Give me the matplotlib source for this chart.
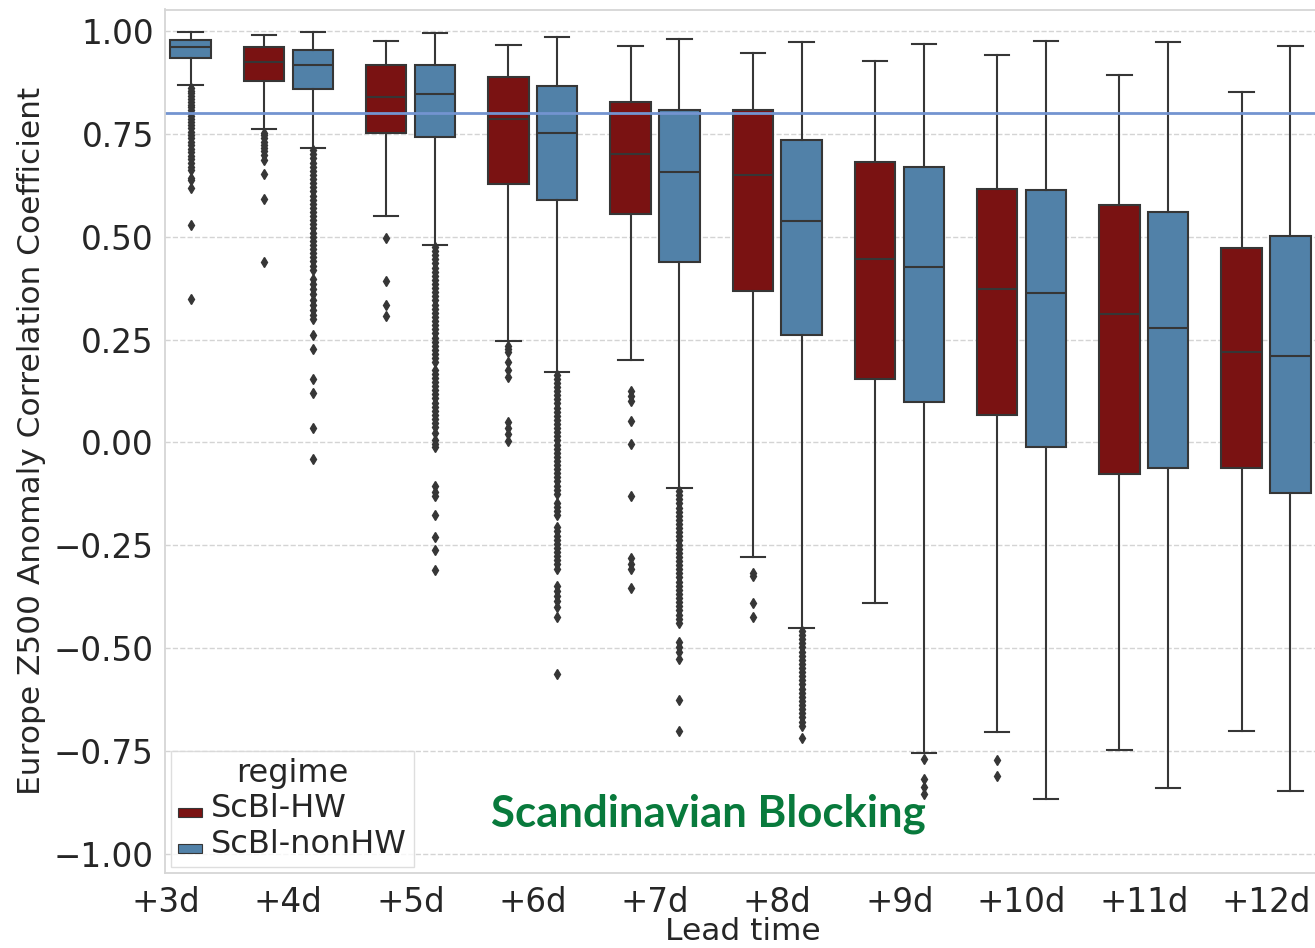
import matplotlib.pyplot as plt
from matplotlib.patches import Patch, Rectangle
from matplotlib.legend_handler import HandlerPatch

# lead times on the x axis
leads = ['+3d', '+4d', '+5d', '+6d', '+7d', '+8d', '+9d', '+10d', '+11d', '+12d']

# ScBl-HW boxes (no +3d box in this panel)
hw_leads = ['+4d', '+5d', '+6d', '+7d', '+8d', '+9d', '+10d', '+11d', '+12d']
hw_whishi = [0.990, 0.976, 0.965, 0.963, 0.946, 0.926, 0.941, 0.894, 0.852]
hw_q3 = [0.961, 0.917, 0.888, 0.828, 0.808, 0.681, 0.617, 0.576, 0.473]
hw_med = [0.924, 0.839, 0.785, 0.701, 0.649, 0.446, 0.373, 0.313, 0.219]
hw_q1 = [0.878, 0.753, 0.629, 0.554, 0.367, 0.155, 0.067, -0.077, -0.063]
hw_whislo = [0.762, 0.551, 0.246, 0.201, -0.278, -0.391, -0.704, -0.748, -0.700]
hw_fliers = [
    [0.752, 0.746, 0.740, 0.731, 0.722, 0.715, 0.707, 0.698, 0.687, 0.653, 0.592, 0.438],
    [0.497, 0.392, 0.333, 0.307],
    [0.234, 0.228, 0.220, 0.195, 0.175, 0.158, 0.049, 0.036, 0.020, 0.003],
    [0.125, 0.112, 0.100, 0.051, -0.003, -0.130, -0.281, -0.296, -0.308, -0.354],
    [-0.316, -0.325, -0.389, -0.423],
    [],
    [-0.772, -0.810],
    [],
    [],
]

# ScBl-nonHW boxes
nhw_leads = leads
nhw_whishi = [0.998, 0.998, 0.994, 0.986, 0.981, 0.973, 0.969, 0.976, 0.973, 0.963]
nhw_q3 = [0.978, 0.954, 0.917, 0.867, 0.808, 0.735, 0.669, 0.614, 0.559, 0.502]
nhw_med = [0.960, 0.917, 0.846, 0.751, 0.658, 0.539, 0.426, 0.362, 0.278, 0.209]
nhw_q1 = [0.934, 0.859, 0.743, 0.588, 0.438, 0.261, 0.098, -0.010, -0.063, -0.122]
nhw_whislo = [0.868, 0.716, 0.481, 0.172, -0.110, -0.451, -0.755, -0.865, -0.840, -0.846]
nhw_fliers = [
    [0.862, 0.855, 0.848, 0.842, 0.835, 0.828, 0.821, 0.815, 0.808, 0.800, 0.793, 0.786,
     0.779, 0.771, 0.763, 0.755, 0.747, 0.739, 0.731, 0.722, 0.714, 0.705, 0.697, 0.688,
     0.679, 0.670, 0.663, 0.643, 0.638, 0.619, 0.528, 0.349],
    [0.710, 0.700, 0.690, 0.680, 0.670, 0.660, 0.650, 0.640, 0.630, 0.620, 0.610, 0.600,
     0.590, 0.580, 0.570, 0.560, 0.550, 0.540, 0.530, 0.520, 0.510, 0.500, 0.490, 0.480,
     0.470, 0.460, 0.450, 0.440, 0.430, 0.420, 0.396, 0.385, 0.372, 0.360, 0.347, 0.335,
     0.322, 0.310, 0.299, 0.260, 0.226, 0.155, 0.121, 0.034, -0.041],
    [0.475, 0.465, 0.455, 0.445, 0.435, 0.425, 0.415, 0.405, 0.395, 0.385, 0.375, 0.365,
     0.355, 0.345, 0.335, 0.325, 0.315, 0.305, 0.295, 0.285, 0.275, 0.265, 0.255, 0.245,
     0.235, 0.225, 0.215, 0.205, 0.195, 0.177, 0.167, 0.157, 0.147, 0.137, 0.127, 0.117,
     0.107, 0.097, 0.087, 0.077, 0.067, 0.057, 0.047, 0.037, 0.024, 0.007, -0.003, -0.012,
     -0.106, -0.120, -0.129, -0.176, -0.230, -0.261, -0.311],
    [0.165, 0.155, 0.145, 0.135, 0.125, 0.115, 0.105, 0.095, 0.085, 0.075, 0.065, 0.055,
     0.045, 0.035, 0.025, 0.015, 0.005, -0.005, -0.015, -0.025, -0.035, -0.045, -0.055,
     -0.065, -0.075, -0.083, -0.094, -0.105, -0.116, -0.126, -0.146, -0.156, -0.166,
     -0.175, -0.206, -0.216, -0.226, -0.236, -0.246, -0.256, -0.266, -0.276, -0.286,
     -0.296, -0.308, -0.349, -0.360, -0.372, -0.385, -0.400, -0.425, -0.563],
    [-0.118, -0.128, -0.138, -0.148, -0.158, -0.168, -0.178, -0.188, -0.198, -0.208,
     -0.218, -0.228, -0.238, -0.248, -0.258, -0.268, -0.278, -0.288, -0.298, -0.308,
     -0.318, -0.328, -0.338, -0.348, -0.358, -0.368, -0.378, -0.388, -0.398, -0.408,
     -0.418, -0.428, -0.438, -0.485, -0.497, -0.510, -0.527, -0.626, -0.702],
    [-0.458, -0.468, -0.478, -0.488, -0.498, -0.508, -0.518, -0.528, -0.538, -0.548,
     -0.558, -0.568, -0.578, -0.588, -0.598, -0.608, -0.618, -0.628, -0.638, -0.648,
     -0.658, -0.668, -0.678, -0.689, -0.718],
    [-0.770, -0.818, -0.837, -0.854],
    [],
    [],
    [],
]

hw_color = '#7a1212'
nhw_color = '#5181a8'
line_col = '#363636'


def box_stats(lo, q1, med, q3, hi, fliers):
    return [dict(whislo=a, q1=b, med=c, q3=d, whishi=e, fliers=f)
            for a, b, c, d, e, f in zip(lo, q1, med, q3, hi, fliers)]


def flat_patch(legend, orig_handle, xdescent, ydescent, width, height, fontsize):
    # thin colour swatch sitting on the text baseline
    return Rectangle((-xdescent, 0.0), width, 0.28 * fontsize)


fig = plt.figure(figsize=(13.15, 9.48), dpi=100)
ax = fig.add_axes([165 / 1315, 75 / 948, 1156 / 1315, 863.5 / 948])

ax.yaxis.grid(True, linestyle='--', color='#d4d4d4', linewidth=1.0)
ax.xaxis.grid(False)
ax.set_axisbelow(True)

line_kw = dict(color=line_col, linewidth=1.5)
for stats, lead_names, offset, color in [
    (box_stats(hw_whislo, hw_q1, hw_med, hw_q3, hw_whishi, hw_fliers), hw_leads, -0.2, hw_color),
    (box_stats(nhw_whislo, nhw_q1, nhw_med, nhw_q3, nhw_whishi, nhw_fliers), nhw_leads, 0.2, nhw_color),
]:
    pos = [leads.index(l) + offset for l in lead_names]
    ax.bxp(stats, positions=pos, widths=0.33, capwidths=0.2, patch_artist=True,
           boxprops=dict(facecolor=color, edgecolor=line_col, linewidth=1.5),
           medianprops=line_kw, whiskerprops=line_kw, capprops=line_kw,
           flierprops=dict(marker='d', markerfacecolor=line_col, markeredgecolor=line_col,
                           markersize=5.5, linestyle='none'),
           manage_ticks=False)

ax.axhline(0.8, color='#7394d0', linewidth=2)

ax.set_xlim(-0.01, 9.45)
ax.set_ylim(-1.046, 1.052)
ax.set_xticks(range(len(leads)))
ax.set_xticklabels(leads)
ax.set_yticks([-1.0, -0.75, -0.5, -0.25, 0.0, 0.25, 0.5, 0.75, 1.0])
ax.tick_params(length=0, labelsize=23.5, labelcolor='#262626')
ax.tick_params(axis='x', pad=9)
ax.tick_params(axis='y', pad=8)
for sp in ax.spines.values():
    sp.set_color('#d6d6d6')
    sp.set_linewidth(1.3)

ax.set_ylabel('Europe Z500 Anomaly Correlation Coefficient', fontsize=22.5, color='#262626', labelpad=6)
ax.set_xlabel('Lead time', fontsize=22.5, color='#262626', labelpad=-1)

handles = [Patch(facecolor=hw_color, edgecolor=line_col, linewidth=0.8),
           Patch(facecolor=nhw_color, edgecolor=line_col, linewidth=0.8)]
leg = ax.legend(handles, ['ScBl-HW', 'ScBl-nonHW'], title='regime', loc='lower left',
                fontsize=23, title_fontsize=23, handlelength=0.75,
                handler_map={Patch: HandlerPatch(patch_func=flat_patch)},
                handletextpad=0.3, borderpad=0.2, labelspacing=0.15, borderaxespad=0.2,
                fancybox=False, edgecolor='#d6d6d6', framealpha=0.8)
leg.get_title().set_color('#262626')
for t in leg.get_texts():
    t.set_color('#262626')

fig.text(491 / 1315, 1 - 827 / 948, 'Scandinavian Blocking', fontfamily='Lato',
         fontweight='bold', fontsize=31.5, color='#087a3c', ha='left', va='baseline')

fig.savefig('out.png', dpi=100)
